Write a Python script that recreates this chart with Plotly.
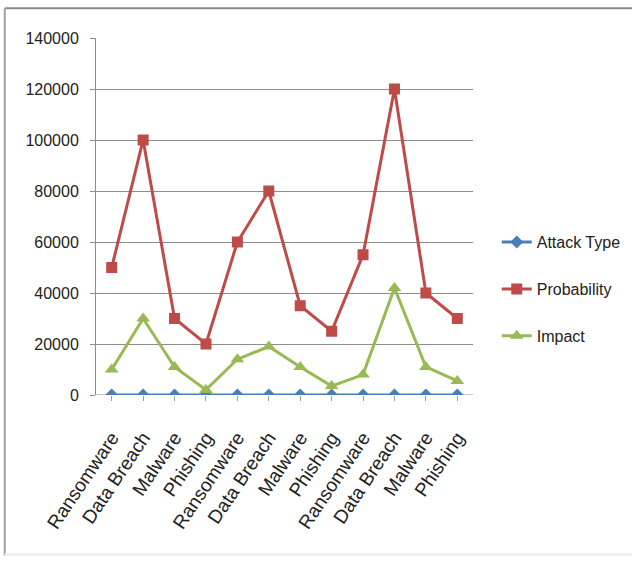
import plotly.graph_objects as go

categories = ["Ransomware", "Data Breach", "Malware", "Phishing",
              "Ransomware", "Data Breach", "Malware", "Phishing",
              "Ransomware", "Data Breach", "Malware", "Phishing"]
x_idx = list(range(len(categories)))
attack_type = [0, 0, 0, 0, 0, 0, 0, 0, 0, 0, 0, 0]
probability = [50000, 100000, 30000, 20000, 60000, 80000, 35000, 25000, 55000, 120000, 40000, 30000]
impact = [10000, 30000, 11000, 2000, 14000, 19000, 11000, 3500, 8000, 42000, 11000, 5500]
y_ticks = [0, 20000, 40000, 60000, 80000, 100000, 120000, 140000]

FONT = "Liberation Sans, Arial, sans-serif"
series = [
    ("Attack Type", attack_type, "#4A7EBB", "diamond", 10),
    ("Probability", probability, "#BE4B48", "square", 11),
    ("Impact", impact, "#98B954", "triangle-up", 12),
]

fig = go.Figure()
for i, (name, vals, col, sym, size) in enumerate(series):
    fig.add_trace(go.Scatter(
        x=x_idx, y=vals, name=name, mode="lines+markers",
        line=dict(color=col, width=3),
        marker=dict(symbol=sym, size=size, color=col),
        legendgroup=f"g{i}",
    ))

fig.update_layout(
    width=632, height=563,
    margin=dict(l=96, r=159, t=38, b=168, autoexpand=False),
    paper_bgcolor="white", plot_bgcolor="white",
    font=dict(family=FONT, color="#222222", size=16),
    showlegend=True,
    legend=dict(xref="container", yref="container", x=0.786, y=0.600,
                xanchor="left", yanchor="top",
                font=dict(family=FONT, size=16, color="#222222"),
                traceorder="grouped", tracegroupgap=23,
                itemwidth=30, bgcolor="rgba(0,0,0,0)"),
    xaxis=dict(
        range=[-0.5, len(categories) - 0.5],
        tickmode="array", tickvals=x_idx, ticktext=categories,
        tickangle=-56, tickfont=dict(family=FONT, size=19, color="#222222"),
        showgrid=False, zeroline=False,
        showline=False,
        ticks="outside", ticklen=5, tickcolor="#999999", tickson="boundaries",
        ticklabelstandoff=18,
    ),
    yaxis=dict(
        range=[0, 140000],
        tickmode="array", tickvals=y_ticks, ticktext=[str(v) for v in y_ticks],
        showgrid=True, gridcolor="#8C8C8C", gridwidth=1,
        zeroline=False, showline=True, linecolor="#8C8C8C", linewidth=1,
        ticks="outside", ticklen=5, tickcolor="#8C8C8C",
        tickfont=dict(family=FONT, size=16, color="#222222"),
        ticklabelstandoff=8,
    ),
    shapes=[
        dict(type="line", xref="paper", yref="paper", x0=-0.242, x1=1.5, y0=1.083, y1=1.083,
             line=dict(color="#8a8a8a", width=2)),
        dict(type="line", xref="paper", yref="paper", x0=-0.242, x1=-0.242, y0=1.083, y1=-0.45,
             line=dict(color="#a0a0a0", width=2)),
        dict(type="line", xref="paper", yref="paper", x0=-0.242, x1=1.5, y0=-0.447, y1=-0.447,
             line=dict(color="#f0f0f0", width=3)),
    ],
)
fig.add_shape(type="line", xref="paper", yref="y", x0=0, x1=1, y0=0, y1=0,
              line=dict(color="#8C8C8C", width=1), layer="below")

fig.write_html("out.html")
